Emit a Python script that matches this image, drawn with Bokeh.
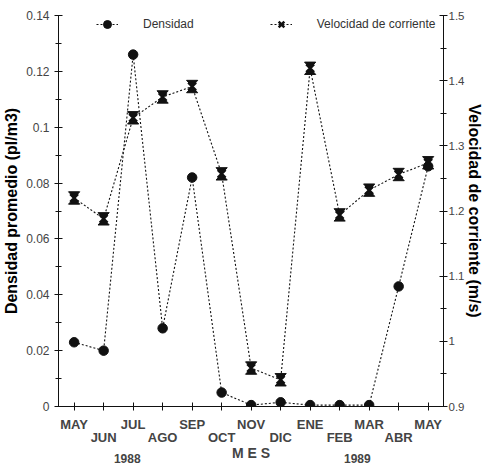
from bokeh.plotting import figure
from bokeh.models import Range1d, LinearAxis, FixedTicker, Legend, LegendItem
from bokeh.embed import file_html
from bokeh.resources import INLINE

# ---- data ----
months = ["MAY", "JUN", "JUL", "AGO", "SEP", "OCT", "NOV", "DIC", "ENE", "FEB", "MAR", "ABR", "MAY"]
month_idx = list(range(13))
densidad = [0.023, 0.020, 0.126, 0.028, 0.082, 0.005, 0.0005, 0.0015, 0.0005, 0.0005, 0.0005, 0.043, 0.086]
velocidad = [1.220, 1.188, 1.343, 1.375, 1.391, 1.257, 0.959, 0.941, 1.419, 1.194, 1.232, 1.256, 1.274]
left_ticks = [0, 0.02, 0.04, 0.06, 0.08, 0.10, 0.12, 0.14]
left_tick_labels = ["0", "0.02", "0.04", "0.06", "0.08", "0.1", "0.12", "0.14"]
left_minor = [0.01, 0.03, 0.05, 0.07, 0.09, 0.11, 0.13]
right_ticks = [0.9, 1.0, 1.1, 1.2, 1.3, 1.4, 1.5]
right_tick_labels = ["0.9", "1", "1.1", "1.2", "1.3", "1.4", "1.5"]
right_minor = [0.95, 1.05, 1.15, 1.25, 1.35, 1.45]
years = ["1988", "1989"]
year_pos = [1.8, 9.6]

TICK_FONT = "Liberation Sans"
BOLD_FONT = "Liberation Sans"

p = figure(width=487, height=465, output_backend="svg", toolbar_location=None,
           x_range=Range1d(-0.53, 12.52), y_range=Range1d(0, 0.14),
           min_border_left=54, min_border_right=44, min_border_top=15, min_border_bottom=57,
           x_axis_type=None, y_axis_type=None)
p.outline_line_color = None
p.xgrid.visible = False
p.ygrid.visible = False
p.extra_y_ranges = {"vel": Range1d(0.9, 1.5)}


def style_y(ax, ticks, labels, minor):
    ax.ticker = FixedTicker(ticks=ticks, minor_ticks=minor)
    ax.major_label_overrides = {t: l for t, l in zip(ticks, labels)}
    ax.axis_line_color = "#111111"
    ax.major_tick_line_color = "#111111"
    ax.minor_tick_line_color = "#111111"
    ax.major_tick_in = 4
    ax.major_tick_out = 4
    ax.minor_tick_in = 3
    ax.minor_tick_out = 3
    ax.major_label_text_font = TICK_FONT
    ax.major_label_text_font_size = "12px"
    ax.major_label_text_color = "#444444"
    ax.axis_label_text_font = BOLD_FONT
    ax.axis_label_text_font_style = "bold"
    ax.axis_label_text_font_size = "16px"
    ax.axis_label_text_color = "#000000"


yl = LinearAxis(axis_label="Densidad promedio (pl/m3)")
style_y(yl, left_ticks, left_tick_labels, left_minor)
yl.major_label_standoff = 5
yl.axis_label_standoff = 3
p.add_layout(yl, "left")

yr = LinearAxis(y_range_name="vel", axis_label="Velocidad de corriente (m/s)")
style_y(yr, right_ticks, right_tick_labels, right_minor)
yr.major_label_text_font_size = "11.5px"
yr.major_label_standoff = 1
yr.axis_label_standoff = -1
p.add_layout(yr, "right")

# x axis row 1 (ticks + odd labels)
xa = LinearAxis()
xa.ticker = FixedTicker(ticks=month_idx, minor_ticks=[])
xa.major_label_overrides = {i: (m if i % 2 == 0 else "") for i, m in zip(month_idx, months)}
xa.axis_line_color = "#111111"
xa.major_tick_line_color = "#111111"
xa.major_tick_in = 4
xa.major_tick_out = 4
xa.major_label_standoff = 6
xa.major_label_text_font = BOLD_FONT
xa.major_label_text_font_style = "bold"
xa.major_label_text_font_size = "13px"
p.add_layout(xa, "below")

# x axis row 2 (even labels + axis title)
xb = LinearAxis(axis_label="M E S")
xb.ticker = FixedTicker(ticks=month_idx, minor_ticks=[])
xb.major_label_overrides = {i: (m if i % 2 == 1 else "") for i, m in zip(month_idx, months)}
xb.axis_line_color = None
xb.major_tick_line_color = None
xb.major_tick_in = 0
xb.major_tick_out = 0
xb.major_label_standoff = -5
xb.major_label_text_font = BOLD_FONT
xb.major_label_text_font_style = "bold"
xb.major_label_text_font_size = "13px"
xb.axis_label_standoff = -3
xb.axis_label_text_font = BOLD_FONT
xb.axis_label_text_font_style = "bold"
xb.axis_label_text_font_size = "14px"
p.add_layout(xb, "below")

# years
xc = LinearAxis()
xc.ticker = FixedTicker(ticks=year_pos, minor_ticks=[])
xc.major_label_overrides = {t: y for t, y in zip(year_pos, years)}
xc.axis_line_color = None
xc.major_tick_line_color = None
xc.major_tick_in = 0
xc.major_tick_out = 0
xc.major_label_standoff = -10
xc.major_label_text_font = BOLD_FONT
xc.major_label_text_font_style = "bold"
xc.major_label_text_font_size = "12px"
p.add_layout(xc, "below")

# density series
d_line = p.line(month_idx, densidad, line_color="#111111", line_width=1.1, line_dash="2 2")
d_pts = p.scatter(month_idx, densidad, marker="circle", size=9.5, fill_color="#111111",
                  line_color="#111111")

# velocity series
v_line = p.line(month_idx, velocidad, y_range_name="vel", line_color="#111111",
                line_width=1.1, line_dash="2 2")
v_x = p.scatter(month_idx, velocidad, y_range_name="vel", marker="x", size=11,
                line_color="#111111", line_width=2.5)
dx, dy = 0.19, 0.0095
hx, hy = [], []
for xi, vi in zip(month_idx, velocidad):
    hx.append([xi - dx, xi + dx, xi])
    hy.append([vi + dy, vi + dy, vi])
    hx.append([xi - dx, xi + dx, xi])
    hy.append([vi - dy, vi - dy, vi])
p.patches(hx, hy, y_range_name="vel", fill_color="#111111", line_color="#111111", line_width=1)

legend = Legend(items=[
    LegendItem(label="Densidad", renderers=[d_line, d_pts]),
    LegendItem(label="Velocidad de corriente", renderers=[v_line, v_x]),
], orientation="horizontal", location=(38, 372), spacing=76, glyph_width=22,
    label_standoff=25, padding=0, margin=0, border_line_color=None,
    background_fill_alpha=0, label_text_font=TICK_FONT, label_text_font_size="12px",
    label_text_color="#333333")
p.add_layout(legend, "center")

open("out.html", "w").write(file_html(p, INLINE))
